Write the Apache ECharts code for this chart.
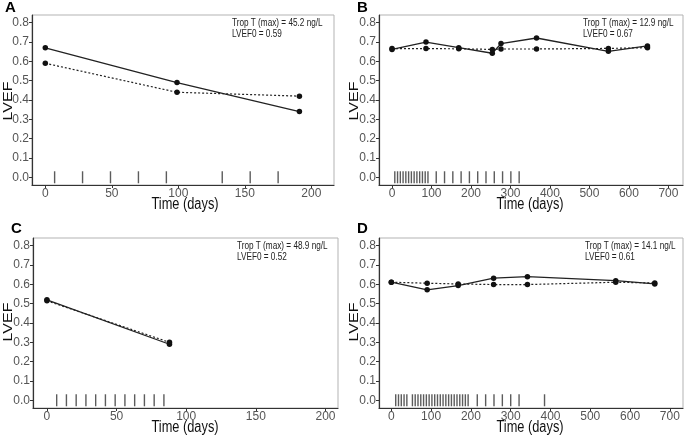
<!DOCTYPE html>
<html>
<head>
<meta charset="utf-8">
<script src="https://cdn.jsdelivr.net/npm/echarts@6/dist/echarts.min.js"></script>
<style>html,body{margin:0;padding:0;background:#fff;}#c{width:685px;height:438px;}</style>
</head>
<body>
<div id="c"></div>
<script>
// ---- Data ----
const panelLabels = ['A', 'B', 'C', 'D'];
const tropT = ['45.2', '12.9', '48.9', '14.1'];
const lvef0 = ['0.59', '0.67', '0.52', '0.61'];
const xTitle = 'Time (days)';
const yTitle = 'LVEF';

const daysA = [0, 99, 191];
const solidA = [0.67, 0.49, 0.34];
const dottedA = [0.59, 0.44, 0.42];
const rugA = [7, 28, 49, 70, 91, 133, 154, 175];

const daysB = [0, 86, 169, 254, 276, 366, 548, 647];
const solidB = [0.662, 0.70, 0.671, 0.642, 0.692, 0.721, 0.652, 0.68];
const dottedB = [0.666, 0.666, 0.665, 0.662, 0.664, 0.664, 0.667, 0.671];
const rugB = [7, 14, 21, 28, 35, 42, 49, 56, 63, 70, 77, 84, 91, 112, 133, 154, 175, 196, 217, 238, 259, 280, 301, 322];

const daysC = [0, 88];
const solidC = [0.52, 0.29];
const dottedC = [0.515, 0.30];
const rugC = [7, 14, 21, 28, 35, 42, 49, 56, 63, 70, 77, 84];

const daysD = [0, 90, 168, 257, 342, 564, 662];
const solidD = [0.611, 0.572, 0.594, 0.632, 0.640, 0.619, 0.602];
const dottedD = [0.611, 0.606, 0.602, 0.599, 0.599, 0.611, 0.607];
const rugD = [11, 18, 25, 32, 39, 53, 60, 67, 74, 81, 88, 95, 102, 109, 116, 123, 130, 137, 144, 151, 158, 165, 172, 179, 186, 193, 216, 237, 258, 279, 300, 321, 385];

const xTicksShort = [0, 50, 100, 150, 200];
const xTicksLong = [0, 100, 200, 300, 400, 500, 600, 700];
const yTicks = [0, 0.1, 0.2, 0.3, 0.4, 0.5, 0.6, 0.7, 0.8];

// ---- Layout ----
const panels = [
  {days: daysA, solid: solidA, dotted: dottedA, rug: rugA, xTicks: xTicksShort, xmin: -10, xmax: 217,
   grid: {left: 32, top: 15, width: 302, height: 170}, letter: [5, 0], note: [232, 18], xt: [185, 205], yt: [8, 101]},
  {days: daysB, solid: solidB, dotted: dottedB, rug: rugB, xTicks: xTicksLong, xmin: -33, xmax: 737,
   grid: {left: 379, top: 15, width: 304, height: 170}, letter: [357, 0], note: [583, 18], xt: [530, 205], yt: [354, 101]},
  {days: daysC, solid: solidC, dotted: dottedC, rug: rugC, xTicks: xTicksShort, xmin: -10, xmax: 209,
   grid: {left: 33, top: 238, width: 305, height: 170}, letter: [11, 221], note: [237, 241], xt: [185, 428], yt: [8, 322]},
  {days: daysD, solid: solidD, dotted: dottedD, rug: rugD, xTicks: xTicksLong, xmin: -31, xmax: 733,
   grid: {left: 379, top: 238, width: 304, height: 170}, letter: [357, 221], note: [585, 241], xt: [530, 428], yt: [354, 322]}
];

const FONT = 'Liberation Sans, Arial, sans-serif';
const grids = [], xAxes = [], yAxes = [], series = [], graphics = [];

panels.forEach((p, i) => {
  grids.push(Object.assign({show: true, borderColor: '#b3b3b3', borderWidth: 1, backgroundColor: '#fff'}, p.grid));
  xAxes.push({
    type: 'value', gridIndex: i, min: p.xmin, max: p.xmax,
    splitLine: {show: false},
    axisLine: {show: true, onZero: false, lineStyle: {color: '#333', width: 1.2}},
    axisTick: {show: true, length: 3, lineStyle: {color: '#333'}, customValues: p.xTicks},
    axisLabel: {color: '#555', fontSize: 12, fontFamily: FONT, margin: 3, customValues: p.xTicks,
      formatter: v => String(v)}
  });
  yAxes.push({
    type: 'value', gridIndex: i, min: -0.04, max: 0.84,
    splitLine: {show: false},
    axisLine: {show: true, onZero: false, lineStyle: {color: '#333', width: 1.2}},
    axisTick: {show: true, length: 3, lineStyle: {color: '#333'}, customValues: yTicks},
    axisLabel: {color: '#555', fontSize: 12, fontFamily: FONT, margin: 3, customValues: yTicks,
      formatter: v => v.toFixed(1)}
  });
  series.push({
    type: 'line', xAxisIndex: i, yAxisIndex: i,
    data: p.days.map((d, k) => [d, p.solid[k]]),
    symbol: 'circle', symbolSize: 5.5, showSymbol: true,
    itemStyle: {color: '#111'}, lineStyle: {color: '#222', width: 1.3}, z: 3
  });
  series.push({
    type: 'line', xAxisIndex: i, yAxisIndex: i,
    data: p.days.map((d, k) => [d, p.dotted[k]]),
    symbol: 'circle', symbolSize: 5.5, showSymbol: true,
    itemStyle: {color: '#111'}, lineStyle: {color: '#222', width: 1.2, type: [2, 2]}, z: 3
  });
  series.push({
    type: 'scatter', xAxisIndex: i, yAxisIndex: i,
    data: p.rug.map(d => [d, 0]),
    symbol: 'rect', symbolSize: [1.4, 12],
    itemStyle: {color: '#333'}, z: 2
  });
  graphics.push({
    type: 'text', x: p.letter[0], y: p.letter[1],
    style: {text: panelLabels[i], font: 'bold 15px ' + FONT, fill: '#000', align: 'left', verticalAlign: 'top'}
  });
  graphics.push({
    type: 'text', x: p.note[0], y: p.note[1], scaleX: 0.82,
    style: {text: 'Trop T (max) = ' + tropT[i] + ' ng/L\nLVEF0 = ' + lvef0[i],
      font: '10px ' + FONT, fill: '#222', lineHeight: 10.5, align: 'left', verticalAlign: 'top'}
  });
  graphics.push({
    type: 'text', x: p.xt[0], y: p.xt[1], scaleX: 0.8,
    style: {text: xTitle, font: '16px ' + FONT, fill: '#111', align: 'center', verticalAlign: 'middle'}
  });
  graphics.push({
    type: 'text', x: p.yt[0], y: p.yt[1], scaleY: 0.8, rotation: Math.PI / 2,
    style: {text: yTitle, font: '16px ' + FONT, fill: '#111', align: 'center', verticalAlign: 'middle'}
  });
});

const chart = echarts.init(document.getElementById('c'), null, {renderer: 'canvas'});
chart.setOption({
  animation: false,
  backgroundColor: '#fff',
  grid: grids, xAxis: xAxes, yAxis: yAxes, series: series, graphic: graphics
});
</script>
</body>
</html>
